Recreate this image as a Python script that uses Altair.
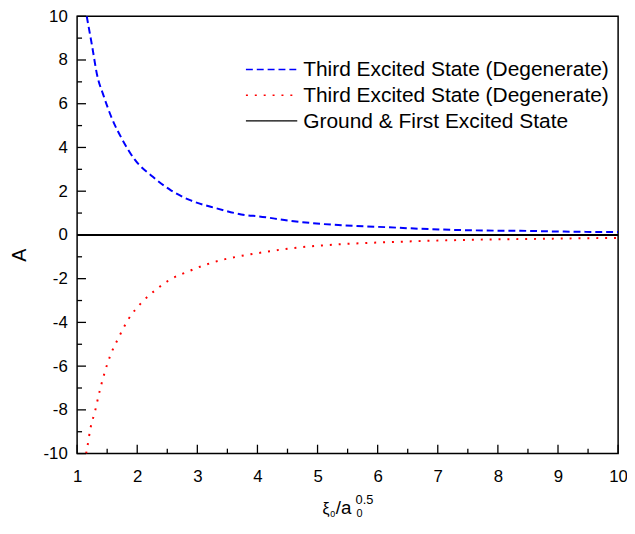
import altair as alt
import pandas as pd

# ---- data ----
blue_x = [1.16, 1.25, 1.33, 1.44, 1.58, 1.74, 1.96, 2.26, 2.56, 2.87, 3.30, 3.80, 4.02,
          4.53, 5.08, 5.63, 6.18, 6.72, 7.27, 7.82, 8.37, 8.91, 9.46, 10.0]
blue_y = [10.0, 8.63, 7.35, 6.37, 5.32, 4.42, 3.44, 2.66, 2.04, 1.60, 1.23, 0.91, 0.85,
          0.65, 0.50, 0.41, 0.35, 0.28, 0.23, 0.20, 0.19, 0.16, 0.14, 0.13]
red_x = [1.15, 1.17, 1.22, 1.30, 1.37, 1.45, 1.55, 1.69, 1.85, 2.07, 2.31, 2.56, 2.84,
         3.11, 3.40, 3.69, 3.99, 4.53, 5.08, 5.63, 6.18, 6.72, 7.27, 7.82, 8.37, 8.91,
         9.46, 10.0]
red_y = [-10.0, -9.70, -8.87, -8.04, -7.20, -6.37, -5.53, -4.70, -3.87, -3.10, -2.51,
         -2.02, -1.68, -1.39, -1.15, -0.98, -0.84, -0.62, -0.48, -0.39, -0.33, -0.28,
         -0.24, -0.21, -0.19, -0.17, -0.15, -0.14]
zero_x = [1.0, 10.0]
zero_y = [0.0, 0.0]

series_keys = ["blue", "red", "black"]
series_labels = ["Third Excited State (Degenerate)",
                 "Third Excited State (Degenerate)",
                 "Ground & First Excited State"]
series_colors = ["#0000ff", "#ff0000", "#000000"]
series_dashes = [[7, 4], [2, 7], [1, 0]]

x_major = [1, 2, 3, 4, 5, 6, 7, 8, 9, 10]
x_minor = [1.5, 2.5, 3.5, 4.5, 5.5, 6.5, 7.5, 8.5, 9.5]
y_major = [-10, -8, -6, -4, -2, 0, 2, 4, 6, 8, 10]
y_minor = [-9, -7, -5, -3, -1, 1, 3, 5, 7, 9]

y_title = "A"
x_title_parts = ["ξ", "0", "/a", "0.5", "0"]

FONT = "Liberation Sans"
W, H = 548, 443

rows = []
for key, xs, ys in [("blue", blue_x, blue_y), ("red", red_x, red_y), ("black", zero_x, zero_y)]:
    for a, b in zip(xs, ys):
        rows.append({"x": a, "A": b, "series": key})
df = pd.DataFrame(rows)

xsc = alt.Scale(domain=[1, 10], nice=False, zero=False)
ysc = alt.Scale(domain=[-10, 10], nice=False, zero=False)

x_axis = alt.Axis(values=x_major, ticks=False, tickSize=0, domain=False, grid=False,
                  labelFontSize=17, labelFont=FONT, labelColor="black",
                  labelPadding=15, labelFlush=False, title=None,
                  labelExpr="'' + datum.value")
y_axis = alt.Axis(values=y_major, ticks=False, tickSize=0, domain=False, grid=False,
                  labelFontSize=17, labelFont=FONT, labelColor="black",
                  labelPadding=10, labelFlush=False, title=None,
                  labelExpr="'' + datum.value")

lines = alt.Chart(df).mark_line(clip=True, interpolate="monotone", strokeWidth=2).encode(
    x=alt.X("x:Q", scale=xsc, axis=x_axis),
    y=alt.Y("A:Q", scale=ysc, axis=y_axis),
    color=alt.Color("series:N", scale=alt.Scale(domain=series_keys, range=series_colors),
                    legend=None),
    strokeDash=alt.StrokeDash("series:N",
                              scale=alt.Scale(domain=series_keys, range=series_dashes),
                              legend=None),
    detail="series:N",
)

def xticks(vals, length):
    return alt.Chart(pd.DataFrame({"x": vals})).mark_rule(color="black", strokeWidth=1.3).encode(
        x=alt.X("x:Q", scale=xsc, axis=x_axis), y=alt.value(H), y2=alt.value(H - length))

def yticks(vals, length):
    return alt.Chart(pd.DataFrame({"A": vals})).mark_rule(color="black", strokeWidth=1.3).encode(
        y=alt.Y("A:Q", scale=ysc, axis=y_axis), x=alt.value(0), x2=alt.value(length))

one = pd.DataFrame({"k": [0]})

def txt(t, x, y, size, angle=0, align="left", baseline="alphabetic"):
    return alt.Chart(one).mark_text(text=t, font=FONT, fontSize=size, color="black",
                                    align=align, baseline=baseline, angle=angle).encode(
        x=alt.value(x), y=alt.value(y))

# legend (drawn as layers: sample line + label per row)
LEG_X, LEG_Y0, LEG_DY, LEG_LEN = 171, 54, 26, 52
legend_layers = []
for i in range(len(series_keys)):
    yy = LEG_Y0 + LEG_DY * i
    legend_layers.append(
        alt.Chart(one).mark_rule(color=series_colors[i], strokeDash=series_dashes[i],
                                 strokeWidth=1.6 if i < 2 else 1.2).encode(
            x=alt.value(LEG_X), x2=alt.value(LEG_X + LEG_LEN), y=alt.value(yy)))
    legend_layers.append(txt(series_labels[i], LEG_X + LEG_LEN + 6, yy + 1, 21.2,
                             baseline="middle"))

ytitle = alt.Chart(one).mark_text(text=y_title, font=FONT, fontSize=20, color="black",
                                  align="center", baseline="middle", angle=270).encode(
    x=alt.value(-58), y=alt.value(242))

xt = [
    txt(x_title_parts[0], 248.5, 504, 16),
    txt(x_title_parts[1], 256.5, 507, 9),
    txt(x_title_parts[2], 262, 504, 19),
    txt(x_title_parts[3], 282, 494, 13),
    txt(x_title_parts[4], 283, 507, 11),
]

chart = alt.layer(
    lines, xticks(x_major, 9), xticks(x_minor, 5), yticks(y_major, 9), yticks(y_minor, 5),
    ytitle, *xt, *legend_layers
).properties(
    width=W, height=H,
    autosize=alt.AutoSizeParams(type="none"),
    padding={"left": 70, "top": 5, "right": 9, "bottom": 72},
    background="white",
).configure_view(stroke="black", strokeWidth=1.5)

chart.save("out.html", embed_options={"renderer": "svg", "actions": False})
